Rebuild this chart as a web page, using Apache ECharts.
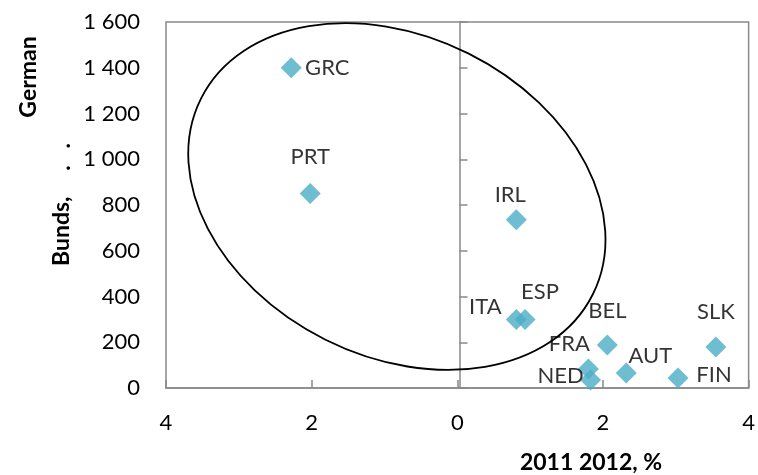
<!DOCTYPE html>
<html>
<head>
<meta charset="utf-8">
<script src="https://cdn.jsdelivr.net/npm/echarts@6/dist/echarts.min.js"></script>
<style>
  html, body { margin: 0; padding: 0; background: #fff; }
  #chart { width: 758px; height: 475px; }
</style>
</head>
<body>
<div id="chart"></div>
<script>
// Country codes and their coordinates: growth change (x, %) and spread vs German Bunds (y, bp)
const countries = ['GRC', 'PRT', 'IRL', 'ITA', 'ESP', 'BEL', 'FRA', 'NED', 'AUT', 'FIN', 'SLK'];
const xValues   = [-2.28, -2.02, 0.81, 0.81, 0.93, 2.06, 1.80, 1.83, 2.32, 3.03, 3.55];
const yValues   = [1400, 850, 735, 300, 300, 188, 83, 35, 66, 44, 179];

// Axis ranges and ticks
const xTicks = [-4, -2, 0, 2, 4];
const yTicks = [0, 200, 400, 600, 800, 1000, 1200, 1400, 1600];

// Where each country label's centre sits relative to its marker centre (px)
const labelOffsets = {
  GRC: [36, 0], PRT: [0, -37], IRL: [-6, -25], ITA: [-31, -12], ESP: [15, -27],
  BEL: [0, -34], FRA: [-19, -25], NED: [-30, -4], AUT: [24, -17], FIN: [36, -3], SLK: [0, -35]
};

// Highlight ellipse around the periphery group (centre in data units)
const ellipseCentre = [-0.83, 837];

const FONT = 'Lato';
const GRAY = '#898989';
const MARK = 21;
const GRID = { left: 166, right: 5, top: 22, bottom: 87 };
const CHART_W = 758;

const points = countries.map((c, i) => ({
  name: c,
  value: [xValues[i], yValues[i]],
  label: {
    position: [MARK / 2 + labelOffsets[c][0], MARK / 2 + labelOffsets[c][1]],
    align: 'center',
    verticalAlign: 'middle'
  }
}));

const spaced = v => String(v).replace(/\B(?=(\d{3})+(?!\d))/g, ' ');

// The value axis drawn through x = 0: shift it from the grid's left edge to the zero of the x axis
const plotW = CHART_W - GRID.left - GRID.right;
const zeroShift = -plotW * (0 - xTicks[0]) / (xTicks[xTicks.length - 1] - xTicks[0]);

const chart = echarts.init(document.getElementById('chart'), null, { renderer: 'canvas' });
chart.setOption({
  animation: false,
  backgroundColor: '#fff',
  grid: Object.assign({}, GRID, {
    show: true, borderColor: GRAY, borderWidth: 1.5, backgroundColor: 'transparent'
  }),
  xAxis: {
    type: 'value',
    min: xTicks[0], max: xTicks[xTicks.length - 1], interval: 2,
    axisLine: { onZero: false, lineStyle: { color: GRAY, width: 1.5 } },
    axisTick: { inside: true, length: 8, lineStyle: { color: GRAY, width: 1.5 } },
    splitLine: { show: false },
    axisLabel: {
      margin: 24, color: '#000', fontFamily: FONT, fontSize: 22,
      formatter: v => String(Math.abs(v))
    }
  },
  yAxis: [
    {
      type: 'value', position: 'left',
      min: yTicks[0], max: yTicks[yTicks.length - 1], interval: 200,
      axisLine: { show: false }, axisTick: { show: false }, splitLine: { show: false },
      axisLabel: { margin: 26, color: '#000', fontFamily: FONT, fontSize: 22, formatter: spaced }
    },
    {
      type: 'value', position: 'left', offset: zeroShift,
      min: yTicks[0], max: yTicks[yTicks.length - 1], interval: 200,
      axisLine: { show: true, onZero: false, lineStyle: { color: GRAY, width: 1.5 } },
      axisTick: { show: true, inside: true, length: 8, lineStyle: { color: GRAY, width: 1.5 } },
      axisLabel: { show: false }, splitLine: { show: false }
    }
  ],
  series: [
    {
      type: 'custom',
      silent: true,
      clip: false,
      z: 1,
      data: [ellipseCentre],
      renderItem: (params, api) => {
        const c = api.coord([api.value(0), api.value(1)]);
        return {
          type: 'ellipse',
          x: c[0], y: c[1],
          rotation: -26.5 * Math.PI / 180,
          shape: { cx: 0, cy: 0, rx: 219, ry: 160 },
          style: { fill: 'none', stroke: '#000', lineWidth: 1.8 }
        };
      }
    },
    {
      type: 'scatter',
      z: 3,
      symbol: 'diamond',
      symbolSize: MARK,
      itemStyle: { color: '#4BACC6' },
      label: {
        show: true,
        formatter: p => p.name,
        color: '#000', fontFamily: FONT, fontSize: 22
      },
      labelLayout: { hideOverlap: false },
      data: points
    }
  ],
  graphic: [
    {
      type: 'text', x: 29, y: 77, rotation: Math.PI / 2,
      style: { text: 'German', font: 'bold 23px Lato', fill: '#000', align: 'center', verticalAlign: 'middle' }
    },
    {
      type: 'text', x: 62, y: 266, rotation: Math.PI / 2,
      style: { text: 'Bunds,', font: 'bold 23px Lato', fill: '#000', align: 'left', verticalAlign: 'middle' }
    },
    {
      type: 'text', x: 63, y: 157, rotation: Math.PI / 2,
      style: { text: '.   .', font: 'bold 23px Lato', fill: '#000', align: 'center', verticalAlign: 'middle' }
    },
    {
      type: 'text', x: 591, y: 463,
      style: { text: '2011 2012, %', font: 'bold 23px Lato', fill: '#000', align: 'center', verticalAlign: 'middle' }
    }
  ]
});
</script>
</body>
</html>
